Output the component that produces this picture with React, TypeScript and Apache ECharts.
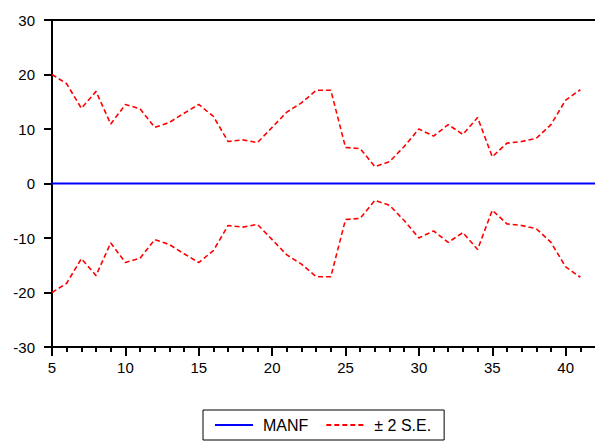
import { useEffect, useRef } from "react";
import * as echarts from "echarts";

// Forecast horizon (periods)
const periods = [
  5, 6, 7, 8, 9, 10, 11, 12, 13, 14, 15, 16, 17, 18, 19, 20, 21, 22, 23,
  24, 25, 26, 27, 28, 29, 30, 31, 32, 33, 34, 35, 36, 37, 38, 39, 40, 41, 42,
];

// MANF response
const manf = [
  0, 0, 0, 0, 0, 0, 0, 0, 0, 0, 0, 0, 0, 0, 0, 0, 0, 0, 0,
  0, 0, 0, 0, 0, 0, 0, 0, 0, 0, 0, 0, 0, 0, 0, 0, 0, 0, 0,
];

// Upper and lower ± 2 standard-error bands (periods 5–41)
const upperBand = [
  20.0, 18.3, 13.8, 16.9, 10.9, 14.5, 13.7, 10.3, 11.2, 12.9, 14.5, 12.3, 7.7, 8.0, 7.5, 10.3, 13.1, 14.8, 17.1,
  17.1, 6.6, 6.4, 3.1, 4.0, 6.8, 10.0, 8.7, 10.8, 9.0, 12.1, 4.9, 7.4, 7.7, 8.3, 10.8, 15.3, 17.2,
];
const lowerBand = [
  -20.0, -18.3, -13.8, -16.9, -10.9, -14.5, -13.7, -10.3, -11.2, -12.9, -14.5, -12.3, -7.7, -8.0, -7.5, -10.3, -13.1, -14.8, -17.1,
  -17.1, -6.6, -6.4, -3.1, -4.0, -6.8, -10.0, -8.7, -10.8, -9.0, -12.1, -4.9, -7.4, -7.7, -8.3, -10.8, -15.3, -17.2,
];

// Tick positions along the x axis
const xMinorTicks = [
  5, 6, 7, 8, 9, 10, 11, 12, 13, 14, 15, 16, 17, 18, 19, 20, 21, 22, 23,
  24, 25, 26, 27, 28, 29, 30, 31, 32, 33, 34, 35, 36, 37, 38, 39, 40, 41,
];
const xLabelTicks = [5, 10, 15, 20, 25, 30, 35, 40];

const X_MIN = 5;
const X_MAX = 42;
const FONT = "'Liberation Sans', Arial, Helvetica, sans-serif";

const pairs = (ys: number[]) => ys.map((y, i) => [periods[i], y]);

export default function App() {
  const ref = useRef<HTMLDivElement>(null);

  useEffect(() => {
    if (!ref.current) return;
    const chart = echarts.init(ref.current, undefined, { renderer: "svg" });

    const bandStyle = { color: "#ff0000", width: 1.6, type: [5, 3] as number[] };

    chart.setOption({
      animation: false,
      backgroundColor: "#ffffff",
      grid: { left: 52, right: -3, top: 20, bottom: 97, containLabel: false },
      legend: {
        left: 203,
        top: 410,
        orient: "horizontal",
        data: ["MANF", "± 2 S.E."],
        itemWidth: 38,
        itemHeight: 14,
        itemGap: 17,
        padding: [7, 13, 7, 11],
        borderColor: "#000000",
        borderWidth: 1,
        itemStyle: { opacity: 0 },
        textStyle: {
          fontFamily: FONT,
          fontSize: 16,
          color: "#000000",
          padding: [0, 0, 0, 5],
        },
      },
      xAxis: [
        {
          type: "value",
          min: X_MIN,
          max: X_MAX,
          position: "bottom",
          splitLine: { show: false },
          axisLine: { show: true, onZero: false, lineStyle: { color: "#000", width: 2 } },
          axisTick: {
            show: true,
            inside: false,
            length: 5,
            customValues: xMinorTicks,
            lineStyle: { color: "#000", width: 2 },
          },
          axisLabel: {
            customValues: xLabelTicks,
            margin: 13,
            fontFamily: FONT,
            fontSize: 15,
            color: "#000",
          },
        },
        {
          type: "value",
          min: X_MIN,
          max: X_MAX,
          position: "bottom",
          splitLine: { show: false },
          axisLine: { show: false, onZero: false },
          axisTick: {
            show: true,
            length: 9,
            customValues: xLabelTicks,
            lineStyle: { color: "#000", width: 2 },
          },
          axisLabel: { show: false },
        },
        {
          type: "value",
          min: X_MIN,
          max: X_MAX,
          position: "top",
          splitLine: { show: false },
          axisLine: { show: true, onZero: false, lineStyle: { color: "#000", width: 2 } },
          axisTick: { show: false },
          axisLabel: { show: false },
        },
      ],
      yAxis: {
        type: "value",
        min: -30,
        max: 30,
        interval: 10,
        splitLine: { show: false },
        axisLine: { show: true, onZero: false, lineStyle: { color: "#000", width: 2 } },
        axisTick: { show: true, length: 8, lineStyle: { color: "#000", width: 2 } },
        axisLabel: {
          margin: 17,
          fontFamily: FONT,
          fontSize: 15,
          color: "#000",
        },
      },
      series: [
        {
          name: "MANF",
          type: "line",
          xAxisIndex: 0,
          data: pairs(manf),
          symbol: "none",
          lineStyle: { color: "#0000ff", width: 2 },
          itemStyle: { color: "#0000ff" },
          z: 3,
        },
        {
          name: "± 2 S.E.",
          type: "line",
          xAxisIndex: 0,
          data: pairs(upperBand),
          symbol: "none",
          lineStyle: bandStyle,
          itemStyle: { color: "#ff0000" },
        },
        {
          name: "± 2 S.E.",
          type: "line",
          xAxisIndex: 0,
          data: pairs(lowerBand),
          symbol: "none",
          lineStyle: bandStyle,
          itemStyle: { color: "#ff0000" },
        },
      ],
    });

    return () => chart.dispose();
  }, []);

  return (
    <div
      ref={ref}
      style={{ position: "fixed", left: 0, top: 0, width: 595, height: 444 }}
    />
  );
}
